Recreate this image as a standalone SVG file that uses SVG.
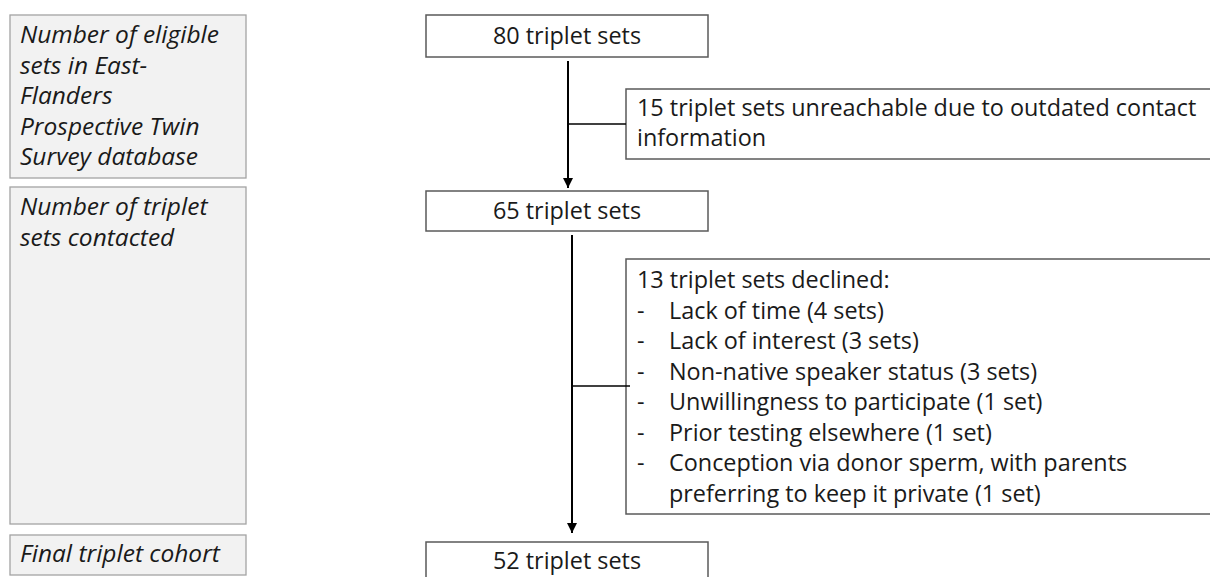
<svg xmlns="http://www.w3.org/2000/svg" width="1210" height="577" viewBox="0 0 1210 577">
<style>
.side{fill:#f2f2f2;stroke:#a3a3a3;stroke-width:1.3}
.box{fill:#ffffff;stroke:#5a5a5a;stroke-width:1.5}
.lbl{font-family:"Open Sans","Liberation Sans",sans-serif;font-size:23.4px;fill:#1a1a1a}
.it{font-family:"Open Sans","Liberation Sans",sans-serif;font-size:24.5px;font-style:italic;fill:#1a1a1a}
.mid{text-anchor:middle}
.con{stroke:#000;stroke-width:2;fill:none}
.br{stroke:#000;stroke-width:1.6;fill:none}
</style>
<defs>
<marker id="ah" markerUnits="userSpaceOnUse" markerWidth="10" markerHeight="10" refX="10" refY="5" orient="auto" viewBox="0 0 10 10">
<path d="M0,0 L10,5 L0,10 Z" fill="#000"/>
</marker>
</defs>
<g id="stage-eligible">
<rect class="side" x="10" y="15" width="236" height="163"/>
<text class="it" x="20" y="43">Number of eligible</text>
<text class="it" x="20" y="73.5">sets in East-</text>
<text class="it" x="20" y="104">Flanders</text>
<text class="it" x="20" y="134.5">Prospective Twin</text>
<text class="it" x="20" y="165">Survey database</text>
</g>
<g id="stage-contacted">
<rect class="side" x="10" y="187" width="236" height="337"/>
<text class="it" x="20" y="215">Number of triplet</text>
<text class="it" x="20" y="245.5">sets contacted</text>
</g>
<g id="stage-final">
<rect class="side" x="10" y="535" width="236" height="40"/>
<text class="it" x="20" y="562">Final triplet cohort</text>
</g>
<g id="n80">
<rect class="box" x="426" y="15" width="282" height="42"/>
<text class="lbl mid" x="567" y="43.5">80 triplet sets</text>
</g>
<g id="n15">
<rect class="box" x="626" y="89" width="600" height="70"/>
<text class="lbl" x="637" y="116">15 triplet sets unreachable due to outdated contact</text>
<text class="lbl" x="637" y="146">information</text>
</g>
<g id="n65">
<rect class="box" x="426" y="191" width="282" height="40"/>
<text class="lbl mid" x="567" y="218.5">65 triplet sets</text>
</g>
<g id="n13">
<rect class="box" x="626" y="259" width="600" height="255"/>
<text class="lbl" x="637" y="288">13 triplet sets declined:</text>
<text class="lbl" x="637" y="318.5">-</text><text class="lbl" x="669" y="318.5">Lack of time (4 sets)</text>
<text class="lbl" x="637" y="349">-</text><text class="lbl" x="669" y="349">Lack of interest (3 sets)</text>
<text class="lbl" x="637" y="379.5">-</text><text class="lbl" x="669" y="379.5">Non-native speaker status (3 sets)</text>
<text class="lbl" x="637" y="410">-</text><text class="lbl" x="669" y="410">Unwillingness to participate (1 set)</text>
<text class="lbl" x="637" y="440.5">-</text><text class="lbl" x="669" y="440.5">Prior testing elsewhere (1 set)</text>
<text class="lbl" x="637" y="471">-</text><text class="lbl" x="669" y="471">Conception via donor sperm, with parents</text>
<text class="lbl" x="669" y="501.5">preferring to keep it private (1 set)</text>
</g>
<g id="n52">
<rect class="box" x="426" y="542" width="282" height="42"/>
<text class="lbl mid" x="567" y="569">52 triplet sets</text>
</g>
<g id="connectors">
<line class="con" x1="568" y1="61" x2="568" y2="188" marker-end="url(#ah)"/>
<line class="br" x1="568" y1="124" x2="626" y2="124"/>
<line class="con" x1="572" y1="235" x2="572" y2="533" marker-end="url(#ah)"/>
<line class="br" x1="572" y1="386" x2="630" y2="386"/>
</g>
</svg>
